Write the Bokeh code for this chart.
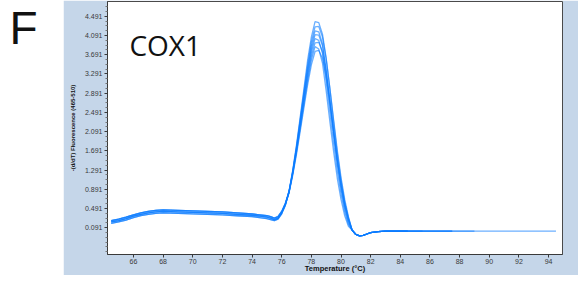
from bokeh.plotting import figure
from bokeh.layouts import row
from bokeh.models import Range1d, FixedTicker, Label
from bokeh.embed import file_html
from bokeh.resources import INLINE

# ---------------- data ----------------
panel_letter = "F"
gene_name = "COX1"
x_title = "Temperature (°C)"
y_title = "-(d/dT) Fluorescence (465-510)"

x_tick_values = [66, 68, 70, 72, 74, 76, 78, 80, 82, 84, 86, 88, 90, 92, 94]
y_tick_values = [0.091, 0.491, 0.891, 1.291, 1.691, 2.091, 2.491, 2.891, 3.291, 3.691, 4.091, 4.491]
y_tick_labels = ["0.091", "0.491", "0.891", "1.291", "1.691", "2.091", "2.491", "2.891", "3.291", "3.691", "4.091", "4.491"]
y_minor_values = [-0.409, -0.309, -0.209, -0.109, -0.009, 0.191, 0.291, 0.391, 0.591, 0.691, 0.791,
                  0.991, 1.091, 1.191, 1.391, 1.491, 1.591, 1.791, 1.891, 1.991, 2.191, 2.291, 2.391,
                  2.591, 2.691, 2.791, 2.991, 3.091, 3.191, 3.391, 3.491, 3.591, 3.791, 3.891, 3.991,
                  4.191, 4.291, 4.391, 4.591, 4.691]

# pre-melt region (shared shape, three envelope variants)
temps_pre = [64.5, 65.0, 65.5, 66.0, 66.5, 67.0, 67.5, 68.0, 69.0, 70.0, 71.0, 72.0, 73.0, 74.0,
             74.5, 75.0, 75.25, 75.5, 75.75, 76.0, 76.25]
base_hi = [0.24, 0.27, 0.31, 0.36, 0.40, 0.43, 0.45, 0.46, 0.45, 0.44, 0.43, 0.42, 0.40, 0.38,
           0.36, 0.34, 0.32, 0.29, 0.32, 0.43, 0.60]
base_mid = [0.21, 0.24, 0.28, 0.33, 0.37, 0.40, 0.42, 0.43, 0.42, 0.41, 0.40, 0.39, 0.37, 0.35,
            0.33, 0.31, 0.29, 0.26, 0.29, 0.40, 0.58]
base_lo = [0.18, 0.21, 0.25, 0.30, 0.34, 0.37, 0.39, 0.40, 0.39, 0.38, 0.37, 0.36, 0.34, 0.32,
           0.30, 0.28, 0.26, 0.24, 0.27, 0.38, 0.56]

# melt peak region, one list per replicate curve
temps_peak = [76.5, 76.75, 77.0, 77.25, 77.5, 77.75, 78.0, 78.25, 78.5, 78.75, 79.0, 79.25,
              79.5, 79.75, 80.0, 80.25, 80.5]
rep_1 = [0.86, 1.30, 1.82, 2.40, 2.98, 3.58, 4.06, 4.38, 4.36, 4.12, 3.62, 2.98, 2.30, 1.64, 1.08, 0.62, 0.28]
rep_2 = [0.84, 1.27, 1.78, 2.35, 2.92, 3.48, 3.96, 4.27, 4.28, 4.06, 3.60, 2.99, 2.34, 1.70, 1.14, 0.68, 0.32]
rep_3 = [0.86, 1.28, 1.77, 2.32, 2.87, 3.41, 3.88, 4.19, 4.17, 3.92, 3.36, 2.70, 2.04, 1.42, 0.90, 0.49, 0.20]
rep_4 = [0.84, 1.25, 1.73, 2.27, 2.81, 3.35, 3.81, 4.11, 4.10, 3.88, 3.36, 2.74, 2.10, 1.48, 0.96, 0.54, 0.24]
rep_5 = [0.85, 1.25, 1.72, 2.24, 2.77, 3.29, 3.74, 4.03, 3.99, 3.72, 3.14, 2.50, 1.86, 1.28, 0.80, 0.42, 0.16]
rep_6 = [0.83, 1.22, 1.68, 2.19, 2.71, 3.22, 3.66, 3.94, 3.95, 3.76, 3.30, 2.72, 2.10, 1.50, 0.98, 0.56, 0.26]
rep_7 = [0.84, 1.22, 1.67, 2.16, 2.66, 3.15, 3.58, 3.86, 3.81, 3.52, 2.94, 2.30, 1.68, 1.12, 0.68, 0.34, 0.12]
rep_8 = [0.82, 1.19, 1.62, 2.10, 2.59, 3.07, 3.48, 3.76, 3.78, 3.62, 3.22, 2.68, 2.10, 1.52, 1.02, 0.60, 0.30]

# post-melt tail (shared), and where each replicate's record stops
temps_tail = [80.75, 81.0, 81.25, 81.5, 81.75, 82.0, 82.5, 83.0, 84.0, 84.5, 85.0, 85.5, 86.0,
              87.0, 87.5, 88.0, 89.0, 90.0, 91.0, 92.0, 93.0, 94.0, 94.5]
tail_values = [0.04, -0.05, -0.08, -0.07, -0.04, -0.01, 0.01, 0.02, 0.02, 0.02, 0.02, 0.02, 0.02,
               0.02, 0.02, 0.02, 0.02, 0.02, 0.02, 0.02, 0.02, 0.02, 0.02]
tail_stop = [94.5, 89.0, 87.5, 87.5, 85.5, 84.5, 84.5, 84.5]

replicates = [rep_1, rep_2, rep_3, rep_4, rep_5, rep_6, rep_7, rep_8]
baselines = [base_hi, base_mid, base_lo, base_mid, base_hi, base_lo, base_mid, base_hi]

# ---------------- styling ----------------
PANEL = "#c5d6e9"
LINE = "#0a7cff"
AXIS = "#3a3a3a"

left = figure(width=63, height=275, x_range=Range1d(0, 63), y_range=Range1d(0, 275),
              x_axis_type=None, y_axis_type=None, min_border=0, title=None,
              toolbar_location=None, output_backend="svg")
left.outline_line_color = None
left.background_fill_color = "white"
left.border_fill_color = "white"
left.grid.visible = False
left.add_layout(Label(x=9, y=246, text=panel_letter, text_font="Liberation Sans",
                      text_font_size="46px", text_color="#111111", text_baseline="alphabetic"))

p = figure(width=515, height=275, x_range=Range1d(64.25, 94.94), y_range=Range1d(-0.467, 4.80),
           title=None, toolbar_location=None, output_backend="svg",
           min_border_left=44, min_border_right=16, min_border_top=1, min_border_bottom=19)
p.border_fill_color = PANEL
p.background_fill_color = "white"
p.outline_line_color = "#4a4a4a"
p.outline_line_width = 1
p.grid.visible = False

for rep, base, stop in zip(replicates, baselines, tail_stop):
    n_tail = sum(1 for t in temps_tail if t <= stop)
    xs = temps_pre + temps_peak + temps_tail[:n_tail]
    ys = base + rep + tail_values[:n_tail]
    p.line(xs, ys, line_color=LINE, line_width=1.3, line_alpha=0.6)

p.add_layout(Label(x=65.73, y=3.89, text=gene_name, text_font="Open Sans",
                   text_font_size="28px", text_color="#111111", text_baseline="alphabetic"))

xa = p.xaxis[0]
xa.ticker = FixedTicker(ticks=x_tick_values)
xa.axis_label = x_title
xa.axis_label_text_font = "Liberation Sans"
xa.axis_label_text_font_style = "bold"
xa.axis_label_text_font_size = "7.5px"
xa.axis_label_text_color = "#111111"
xa.axis_label_text_line_height = 1.0
xa.axis_label_standoff = -3
xa.major_label_text_font = "Liberation Sans"
xa.major_label_text_font_size = "7px"
xa.major_label_text_line_height = 1.0
xa.major_label_text_color = AXIS
xa.major_label_standoff = 1
xa.major_tick_out = 3
xa.major_tick_in = 0
xa.minor_tick_out = 0
xa.minor_tick_in = 0
xa.axis_line_color = AXIS
xa.major_tick_line_color = AXIS

ya = p.yaxis[0]
ya.ticker = FixedTicker(ticks=y_tick_values, minor_ticks=y_minor_values)
ya.major_label_overrides = {v: s for v, s in zip(y_tick_values, y_tick_labels)}
ya.axis_label = y_title
ya.axis_label_text_font = "Liberation Sans"
ya.axis_label_text_font_style = "bold"
ya.axis_label_text_font_size = "6px"
ya.axis_label_text_color = "#111111"
ya.axis_label_standoff = 6
ya.major_label_text_font = "Liberation Sans"
ya.major_label_text_font_size = "7px"
ya.major_label_text_color = AXIS
ya.major_label_standoff = 2
ya.major_tick_out = 3
ya.major_tick_in = 0
ya.minor_tick_out = 2
ya.minor_tick_in = 0
ya.axis_line_color = AXIS
ya.major_tick_line_color = AXIS
ya.minor_tick_line_color = "#777777"

layout = row(left, p)
open("out.html", "w").write(file_html(layout, INLINE))
